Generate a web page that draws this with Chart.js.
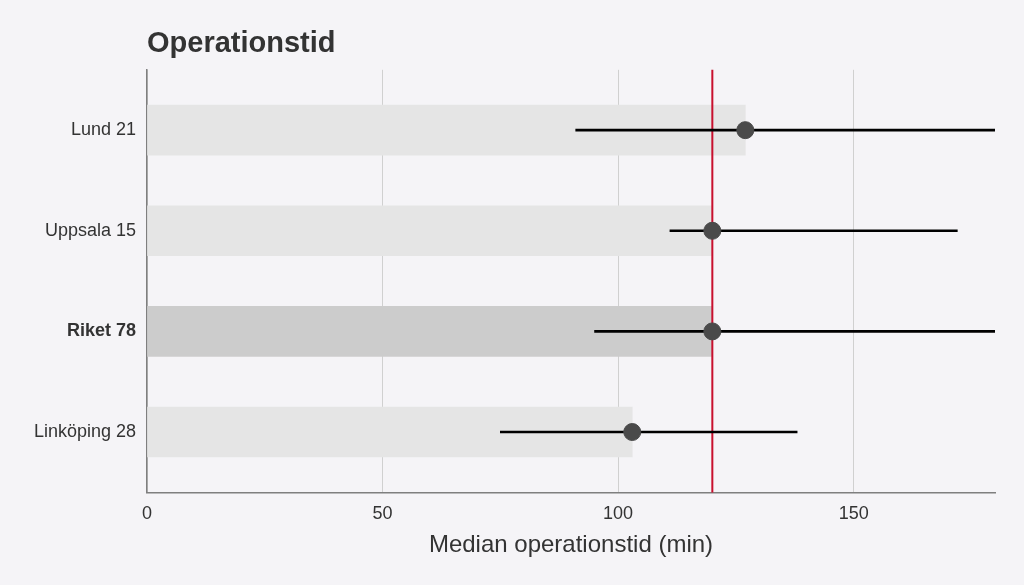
<!DOCTYPE html>
<html>
<head>
<meta charset="utf-8">
<script src="https://cdn.jsdelivr.net/npm/chart.js@4/dist/chart.umd.min.js"></script>
<style>
  html, body { margin: 0; padding: 0; background: #f5f4f7; }
  canvas { display: block; }
</style>
</head>
<body>
<canvas id="c" width="1024" height="585"></canvas>
<script>
// ---- data ----
const categories = ['Lund 21', 'Uppsala 15', 'Riket 78', 'Linköping 28'];
const medians = [127, 120, 120, 103];
const lowerBounds = [91, 111, 95, 75];
const upperBounds = [190, 172, 185, 138];
const highlightCategory = 'Riket 78';
const referenceValue = 120;
const xTicks = [0, 50, 100, 150];
const xMin = 0;
const xMax = 180;

const FONT = "'Liberation Sans', Arial, sans-serif";
const TEXT = '#333333';

const refLinePlugin = {
  id: 'refLine',
  afterDatasetDraw(chart, args) {
    if (args.index !== 0) return;
    const { ctx, chartArea, scales } = chart;
    const x = scales.x.getPixelForValue(referenceValue);
    ctx.save();
    ctx.strokeStyle = '#c8102e';
    ctx.lineWidth = 2;
    ctx.beginPath();
    ctx.moveTo(x, chartArea.top);
    ctx.lineTo(x, chartArea.bottom);
    ctx.stroke();
    ctx.restore();
  }
};

new Chart(document.getElementById('c'), {
  type: 'bar',
  data: {
    datasets: [
      {
        type: 'bar',
        data: medians.map((v, i) => ({ x: v, y: i })),
        backgroundColor: ctx => categories[ctx.dataIndex] === highlightCategory ? '#cccccc' : '#e5e5e5',
        borderWidth: 0,
        barThickness: 50,
        grouped: false,
        order: 3
      },
      {
        type: 'bar',
        data: lowerBounds.map((lo, i) => ({ x: [lo, upperBounds[i]], y: i })),
        backgroundColor: '#000000',
        borderWidth: 0,
        barThickness: 2,
        grouped: false,
        order: 2
      },
      {
        type: 'scatter',
        data: medians.map((v, i) => ({ x: v, y: i })),
        backgroundColor: '#4a4a4a',
        borderColor: '#4a4a4a',
        pointRadius: 8.5,
        pointHoverRadius: 8.5,
        order: 1
      }
    ]
  },
  options: {
    indexAxis: 'y',
    responsive: false,
    animation: false,
    layout: { padding: { left: 0, right: 29, top: 0, bottom: 28 } },
    plugins: {
      legend: { display: false },
      tooltip: { enabled: false },
      title: {
        display: true,
        text: 'Operationstid',
        align: 'start',
        fullSize: false,
        color: TEXT,
        font: { family: FONT, size: 29, weight: 'bold' },
        padding: { top: 27, bottom: 8 }
      }
    },
    scales: {
      x: {
        type: 'linear',
        min: xMin,
        max: xMax,
        afterBuildTicks: scale => { scale.ticks = xTicks.map(v => ({ value: v })); },
        grid: { color: '#d0d0d0', lineWidth: 1, drawTicks: false },
        border: { display: true, color: '#7f7f7f', width: 1.5 },
        ticks: { color: TEXT, font: { family: FONT, size: 18 }, padding: 11 },
        title: {
          display: true,
          text: 'Median operationstid (min)',
          color: TEXT,
          font: { family: FONT, size: 24, lineHeight: 1 },
          padding: { top: -3, bottom: 0 }
        }
      },
      y: {
        type: 'linear',
        reverse: true,
        offset: false,
        min: -0.6,
        max: 3.6,
        afterBuildTicks: scale => { scale.ticks = categories.map((c, i) => ({ value: i })); },
        afterFit: scale => { scale.width = 147; },
        grid: { display: false, drawTicks: false },
        border: { display: true, color: '#7f7f7f', width: 1.5 },
        ticks: {
          color: TEXT,
          padding: 11,
          callback: v => categories[v],
          font: ctx => ({
            family: FONT,
            size: 18,
            weight: categories[ctx.tick && ctx.tick.value] === highlightCategory ? 'bold' : 'normal'
          })
        }
      }
    }
  },
  plugins: [refLinePlugin]
});
</script>
</body>
</html>
